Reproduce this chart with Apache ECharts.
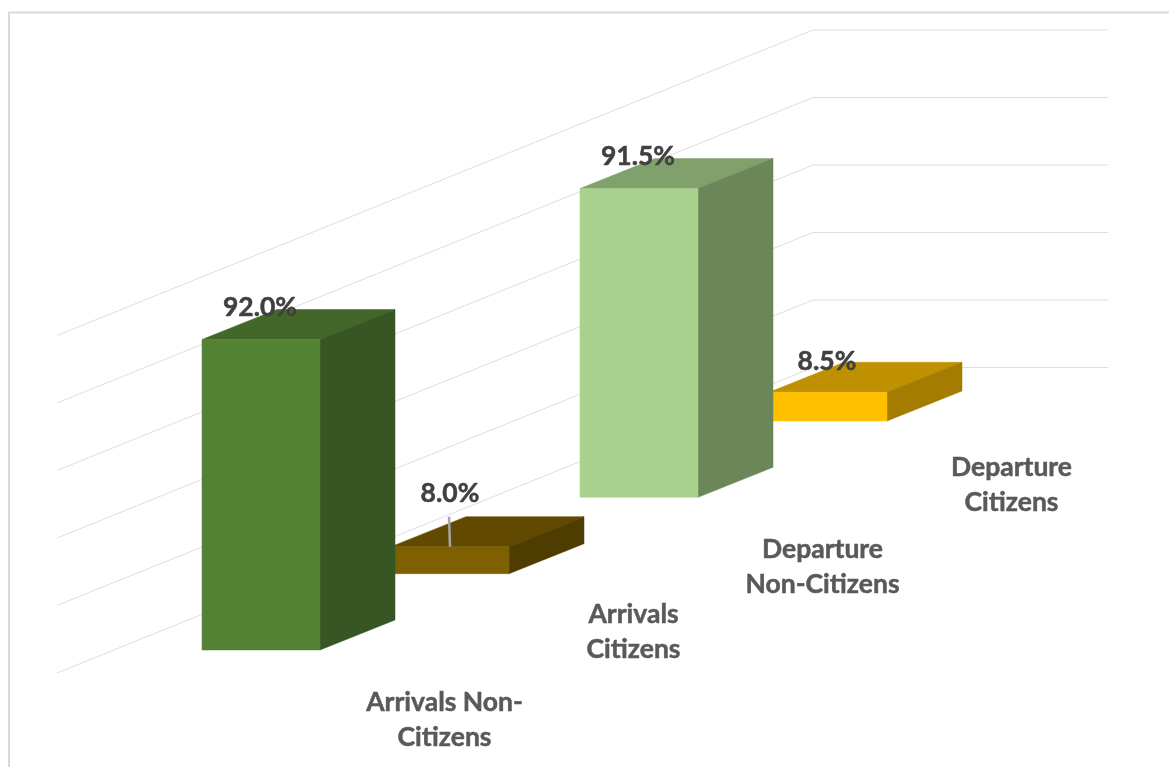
<!DOCTYPE html>
<html>
<head>
<meta charset="utf-8">
<style>html,body{margin:0;padding:0;background:#fff}#c{width:1169px;height:767px}</style>
<script src="https://cdn.jsdelivr.net/npm/echarts@6/dist/echarts.min.js"></script>
</head>
<body>
<div id="c"></div>
<script>
const categories = ["Arrivals Non-\nCitizens", "Arrivals\nCitizens", "Departure\nNon-Citizens", "Departure\nCitizens"];
const values = [92.0, 8.0, 91.5, 8.5];
const valueTicks = [0, 20, 40, 60, 80, 100];

const frontColors = ["#548235", "#7f6000", "#a9d18e", "#ffc000"];
const topColors = ["#426729", "#614a00", "#80a06c", "#bf9000"];
const sideColors = ["#375623", "#4f3c00", "#6b875a", "#a37c00"];
const catLabelDy = [70, 58, 70, 64];
const valueLabelDy = [-32, -53, -32, -31];

const BAR_W = 118, DEPTH_X = 75, DEPTH_Y = 30, STEP_Y = 76.33;
const FONT = "Lato, 'Open Sans', sans-serif";

function renderBar(params, api) {
  const i = api.value(0);
  const v = api.value(1);
  const base = api.coord([i, 0]);
  const top = api.coord([i, v]);
  const shift = i * STEP_Y;
  const x0 = base[0] - BAR_W / 2, x1 = base[0] + BAR_W / 2;
  const yb = base[1] - shift, yt = top[1] - shift;
  const z = (4 - i) * 10;
  const poly = (points, fill) => ({
    type: "polygon", z2: z,
    shape: { points },
    style: { fill, stroke: fill, lineWidth: 0.5 }
  });
  const children = [
    poly([[x0, yt], [x1, yt], [x1 + DEPTH_X, yt - DEPTH_Y], [x0 + DEPTH_X, yt - DEPTH_Y]], topColors[i]),
    poly([[x1, yb], [x1, yt], [x1 + DEPTH_X, yt - DEPTH_Y], [x1 + DEPTH_X, yb - DEPTH_Y]], sideColors[i]),
    poly([[x0, yb], [x1, yb], [x1, yt], [x0, yt]], frontColors[i]),
    {
      type: "text", z2: 100,
      style: {
        x: base[0] + (i === 1 ? 0 : -1), y: yt + valueLabelDy[i],
        text: v.toFixed(1) + "%",
        font: "bold 26.5px " + FONT, fill: "#404040",
        stroke: "#404040", lineWidth: 0.5,
        align: "center", verticalAlign: "middle"
      }
    },
    {
      type: "text", z2: 100,
      style: {
        x: base[0] + 183.5, y: yb + catLabelDy[i],
        text: categories[i],
        font: "bold 26.5px " + FONT, fill: "#595959", lineHeight: 35,
        stroke: "#595959", lineWidth: 0.5,
        align: "center", verticalAlign: "middle"
      }
    }
  ];
  if (i === 1) {
    children.push({
      type: "line", z2: 90,
      shape: { x1: base[0] - 1, y1: yt - DEPTH_Y, x2: base[0], y2: yt },
      style: { stroke: "#a6a6a6", lineWidth: 2.5 }
    });
  }
  return { type: "group", children };
}

function renderWall(params, api) {
  const p = api.coord([0, api.value(0)]);
  return {
    type: "polyline", z2: 0,
    shape: { points: [[p[0] - 204, p[1] + 23], [p[0] + 552, p[1] - 282.5], [p[0] + 847, p[1] - 282.5]] },
    style: { fill: "none", stroke: "#dedede", lineWidth: 1 }
  };
}

const chart = echarts.init(document.getElementById("c"), null, { renderer: "canvas" });
chart.setOption({
  animation: false,
  backgroundColor: "#fff",
  grid: { left: 166.5, width: 756, top: 312.5, height: 337.5, containLabel: false, outerBoundsMode: "none" },
  xAxis: { type: "category", data: categories, show: false },
  yAxis: { type: "value", min: 0, max: 100, interval: 20, show: false },
  graphic: [{
    type: "polyline", silent: true,
    shape: { points: [[9, 767], [9, 12.5], [1169, 12.5]] },
    style: { fill: "none", stroke: "#d9d9d9", lineWidth: 2 }
  }],
  series: [
    {
      type: "custom", renderItem: renderWall, silent: true, clip: false, z: 1,
      coordinateSystem: "cartesian2d",
      data: valueTicks.map(t => [t]),
      encode: { y: 0 }
    },
    {
      type: "custom", renderItem: renderBar, silent: true, clip: false, z: 2,
      coordinateSystem: "cartesian2d",
      data: values.map((v, i) => [i, v]),
      encode: { x: 0, y: 1 }
    }
  ]
});
</script>
</body>
</html>
